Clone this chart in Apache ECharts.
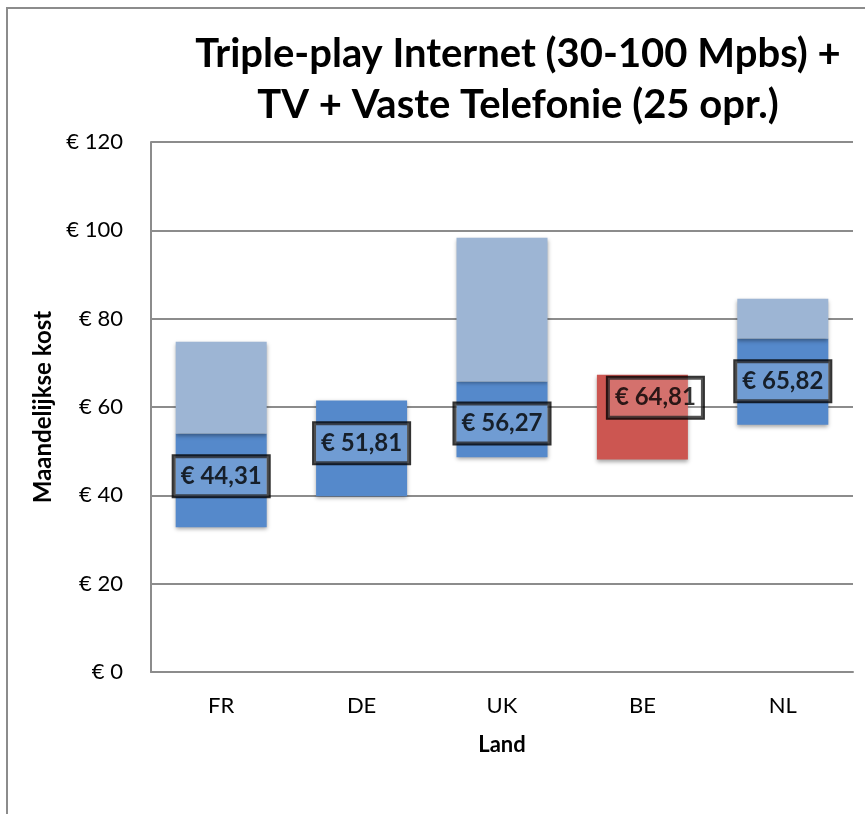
<!DOCTYPE html>
<html>
<head>
<meta charset="utf-8">
<script src="https://cdn.jsdelivr.net/npm/echarts@6/dist/echarts.min.js"></script>
<style>
    html, body { margin: 0; padding: 0; background: #fff; }
    #chart { width: 865px; height: 814px; }
</style>
</head>
<body>
<div id="chart"></div>
<script>
    // kosten per land (euro per maand)
    var categories = ['FR', 'DE', 'UK', 'BE', 'NL'];
    var minValues = [32.8, 39.8, 48.6, 48.1, 56.0];
    var midValues = [54.0, 61.5, 65.8, 67.3, 75.5];
    var maxValues = [74.8, 61.5, 98.3, 67.3, 84.5];
    var avgValues = [44.31, 51.81, 56.27, 64.81, 65.82];
    var yTicks = [0, 20, 40, 60, 80, 100, 120];
    var highlight = 'BE';

    var darkBlue = '#5589CB';
    var lightBlue = '#9DB5D4';
    var red = '#CC5651';
    var font = 'Lato';

    var barShadow = {
        shadowBlur: 4,
        shadowColor: 'rgba(0,0,0,0.35)',
        shadowOffsetY: 2
    };

    var darkData = categories.map(function (c, i) {
        return {
            value: +(midValues[i] - minValues[i]).toFixed(2),
            itemStyle: { color: c === highlight ? red : darkBlue }
        };
    });
    var lightData = categories.map(function (c, i) {
        return +(maxValues[i] - midValues[i]).toFixed(2);
    });
    var labelData = categories.map(function (c, i) {
        var item = { value: avgValues[i] };
        if (c === highlight) {
            item.label = { offset: [13, 12] };
        }
        return item;
    });

    var myChart = echarts.init(document.getElementById('chart'));
    var option = {
        animation: false,
        backgroundColor: '#fff',
        title: {
            text: 'Triple-play Internet (30-100 Mpbs) +\nTV + Vaste Telefonie (25 opr.)',
            left: 513,
            top: 24,
            textAlign: 'center',
            textStyle: {
                fontFamily: font,
                fontSize: 40,
                fontWeight: 'bold',
                color: '#000',
                lineHeight: 51
            }
        },
        graphic: [
            {
                type: 'polyline',
                shape: { points: [[7, 814], [7, 8], [865, 8]] },
                style: { stroke: '#8c8c8c', lineWidth: 2, fill: null }
            }
        ],
        grid: {
            left: 151,
            right: 12,
            top: 142,
            bottom: 142
        },
        xAxis: {
            type: 'category',
            data: categories,
            name: 'Land',
            nameLocation: 'middle',
            nameGap: 62,
            nameTextStyle: { fontFamily: font, fontSize: 22, fontWeight: 'bold', color: '#000' },
            axisLine: { lineStyle: { color: '#8c8c8c', width: 2 } },
            axisTick: { show: false },
            axisLabel: { fontFamily: font, fontSize: 22, color: '#000', margin: 23 }
        },
        yAxis: {
            type: 'value',
            min: yTicks[0],
            max: yTicks[yTicks.length - 1],
            interval: 20,
            name: 'Maandelijkse kost',
            nameLocation: 'middle',
            nameGap: 96,
            nameTextStyle: { fontFamily: font, fontSize: 24, fontWeight: 'bold', color: '#000' },
            axisLine: { show: true, lineStyle: { color: '#8c8c8c', width: 2 } },
            axisTick: { show: false },
            splitLine: { lineStyle: { color: '#8c8c8c', width: 2 } },
            axisLabel: {
                fontFamily: font,
                fontSize: 22,
                color: '#000',
                margin: 28,
                formatter: function (v) { return '€ ' + v; }
            }
        },
        series: [
            {
                name: 'basis',
                type: 'bar',
                stack: 'kost',
                barWidth: 91,
                silent: true,
                itemStyle: { color: 'transparent' },
                data: minValues
            },
            {
                name: 'laag',
                type: 'bar',
                stack: 'kost',
                itemStyle: barShadow,
                data: darkData
            },
            {
                name: 'hoog',
                type: 'bar',
                stack: 'kost',
                itemStyle: Object.assign({ color: lightBlue }, barShadow),
                data: lightData
            },
            {
                name: 'gemiddeld',
                type: 'scatter',
                symbolSize: 1,
                itemStyle: { color: 'transparent' },
                z: 5,
                label: {
                    show: true,
                    position: 'inside',
                    fontFamily: font,
                    fontSize: 24,
                    fontWeight: 'bold',
                    color: '#000',
                    textBorderWidth: 0,
                    textShadowBlur: 0,
                    shadowBlur: 0,
                    backgroundColor: 'rgba(255,255,255,0.2)',
                    borderColor: '#000',
                    borderWidth: 2,
                    padding: [9, 7, 7, 7],
                    formatter: function (p) {
                        return '€ ' + p.value.toFixed(2).replace('.', ',');
                    }
                },
                data: labelData
            }
        ]
    };
    myChart.setOption(option);
</script>
</body>
</html>
